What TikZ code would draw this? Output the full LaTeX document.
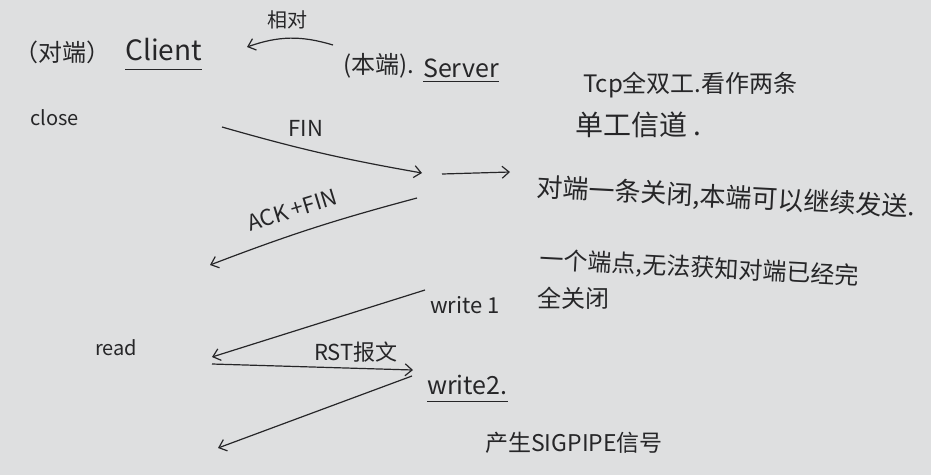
\documentclass[tikz,border=0pt]{standalone}
\usepackage{fontspec}
\setmainfont{Noto Sans CJK SC}
\usetikzlibrary{arrows.meta}
\definecolor{paper}{RGB}{222,223,224}
\definecolor{ink}{RGB}{38,38,40}

\begin{document}
\begin{tikzpicture}[x=1pt,y=-1pt,
  >={Straight Barb[length=7pt,width=12pt]},
  every node/.style={text=ink,inner sep=0pt,font=\fontsize{22}{26}\selectfont},
  msg/.style={draw=ink,line width=1.2pt,->},
  uline/.style={draw=ink,line width=1.1pt}]
\fill[paper] (0,0) rectangle (931,475);
\useasboundingbox (0,0) rectangle (931,475);

\node[anchor=west,font=\fontsize{24}{28}\selectfont] (duiduan) at (14,52) {（对端）};
\node[anchor=west,font=\fontsize{28}{32}\selectfont] (client) at (125,50) {Client};
\node[anchor=west,font=\fontsize{24}{28}\selectfont] (benduan) at (343,66) {(本端).};
\node[anchor=west,font=\fontsize{25}{30}\selectfont] (server) at (423,68) {Server};
\node[font=\fontsize{20}{24}\selectfont] (xiangdui) at (287,20) {相对};
\node[anchor=west,font=\fontsize{20}{24}\selectfont] (close) at (30,118) {close};
\node[anchor=west,font=\fontsize{20}{24}\selectfont] (read) at (95,348) {read};

\path[uline] ([yshift=-8pt]client.south west) -- ([yshift=-8pt]client.south east);
\path[uline] ([yshift=-4pt]server.south west) -- ([yshift=-4pt]server.south east);

\coordinate (xiangR) at (333,45);
\coordinate (xiangL) at (247,47);
\path[msg] (xiangR) to[bend right=18] (xiangL);

% FIN / ACK+FIN
\coordinate (finA) at (222,127);
\coordinate (finB) at (422,173);
\coordinate (outA) at (442,174);
\coordinate (outB) at (510,172);
\coordinate (ackA) at (417,198);
\coordinate (ackB) at (210,265);
\path[msg] (finA) to[bend right=3] (finB);
\path[msg] (outA) -- (outB);
\path[msg] (ackA) to[bend right=3] (ackB);
\node (fin) at (306,128) {FIN};
\node[rotate=17] (ackfin) at (292,210) {ACK\kern4pt+FIN};

% write1 / RST / write2
\coordinate (w1A) at (425,290);
\coordinate (w1B) at (212,357);
\coordinate (rstA) at (212,364);
\coordinate (rstB) at (413,370);
\coordinate (w2A) at (412,376);
\coordinate (w2B) at (218,448);
\path[msg] (w1A) -- (w1B);
\path[msg] (rstA) -- (rstB);
\path[msg] (w2A) -- (w2B);
\node (rst) at (356,352) {RST报文};
\node[anchor=west] (write1) at (430,305) {write 1};
\node[anchor=west,font=\fontsize{25}{30}\selectfont] (write2) at (427,385) {write2.};
\path[uline] ([yshift=-6pt]write2.south west) -- ([yshift=-6pt]write2.south east);
\node[anchor=west,font=\fontsize{23}{28}\selectfont] (sigpipe) at (485,443) {产生SIGPIPE信号};

% notes
\node[anchor=west,font=\fontsize{24}{28}\selectfont] (tcp) at (583,85) {Tcp全双工.看作两条};
\node[anchor=west,font=\fontsize{28}{32}\selectfont] (dangong) at (575,125) {单工信道 .};
\node[anchor=west,rotate=-3,font=\fontsize{26}{30}\selectfont] (oneclose) at (537,188) {对端一条关闭,本端可以继续发送.};
\node[anchor=west,rotate=-3,font=\fontsize{24}{28}\selectfont] (endpoint) at (540,260) {一个端点,无法获知对端已经完};
\node[anchor=west,font=\fontsize{24}{28}\selectfont] (quanguan) at (537,298) {全关闭};
\end{tikzpicture}
\end{document}
